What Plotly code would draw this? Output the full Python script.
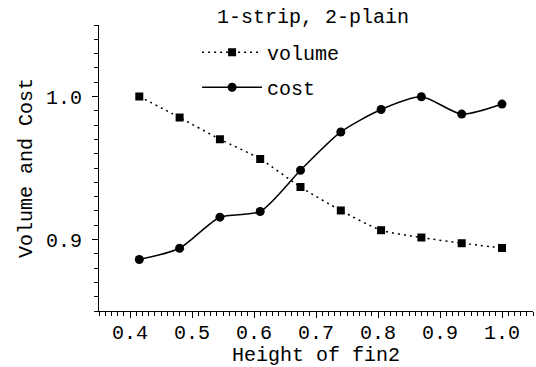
import plotly.graph_objects as go

height_fin2 = [0.415, 0.48, 0.545, 0.61, 0.675, 0.74, 0.805, 0.87, 0.935, 1.0]
volume = [1.000, 0.9853, 0.9701, 0.9563, 0.9367, 0.9203, 0.9065, 0.9014, 0.8974, 0.8941]
cost = [0.8860, 0.8939, 0.9156, 0.9196, 0.9484, 0.9752, 0.9909, 0.9998, 0.9877, 0.9947]

legend_title = "1-strip, 2-plain"
x_title = "Height of fin2"
y_title = "Volume and Cost"

FONT = "Liberation Mono, Courier New, monospace"
FS = 20

fig = go.Figure()
fig.add_trace(go.Scatter(
    x=height_fin2, y=volume, name="volume", mode="lines+markers", legendgroup="v",
    line=dict(color="black", width=1.5, dash="2px,4px", shape="spline", smoothing=0.7),
    marker=dict(symbol="square", size=8, color="black"),
))
fig.add_trace(go.Scatter(
    x=height_fin2, y=cost, name="cost", mode="lines+markers", legendgroup="c",
    line=dict(color="black", width=1.5, shape="spline", smoothing=0.7),
    marker=dict(symbol="circle", size=9, color="black"),
))

axis_common = dict(
    showline=True, linecolor="black", linewidth=1.2, mirror=False,
    showgrid=False, zeroline=False,
    ticks="outside", ticklen=6, tickwidth=1.2, tickcolor="black",
    tickfont=dict(family=FONT, size=FS, color="black"),
)

fig.update_xaxes(
    range=[0.35, 1.05], dtick=0.1, tick0=0.4, tickformat=".1f",
    minor=dict(dtick=0.01, ticks="outside", ticklen=4, tickwidth=1, tickcolor="black"),
    title=dict(text=x_title, font=dict(family=FONT, size=FS, color="black"), standoff=2),
    ticklabelstandoff=-3,
    **axis_common,
)
fig.update_yaxes(
    range=[0.85, 1.05], dtick=0.1, tick0=0.9, tickformat=".1f",
    minor=dict(dtick=0.01, ticks="outside", ticklen=4, tickwidth=1, tickcolor="black"),
    title=dict(text=y_title, font=dict(family=FONT, size=FS, color="black"), standoff=7),
    ticklabelstandoff=6,
    **axis_common,
)

fig.update_layout(
    width=536, height=367,
    margin=dict(l=99, r=3, t=25, b=56, autoexpand=False),
    paper_bgcolor="white", plot_bgcolor="white",
    font=dict(family=FONT, size=FS, color="black"),
    showlegend=True,
    legend=dict(
        x=0.226, y=0.973, xanchor="left", yanchor="top",
        bgcolor="rgba(0,0,0,0)", borderwidth=0,
        font=dict(family=FONT, size=FS),
        itemwidth=60, tracegroupgap=6,
    ),
    annotations=[dict(
        text=legend_title, xref="paper", yref="paper",
        x=0.494, y=1.0245, xanchor="center", yanchor="middle", showarrow=False,
        font=dict(family=FONT, size=FS, color="black"),
    )],
)

fig.write_html("out.html")
